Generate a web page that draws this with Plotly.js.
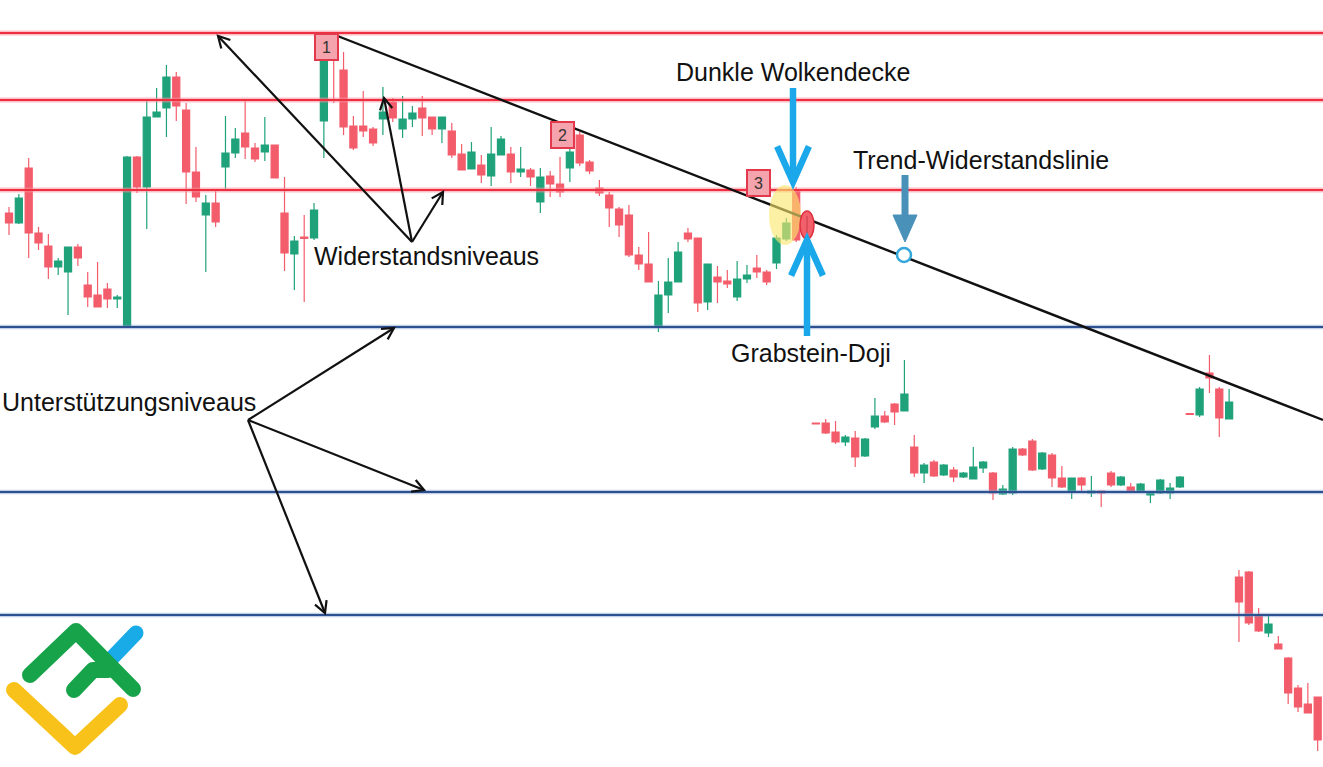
<!DOCTYPE html>
<html>
<head>
<meta charset="utf-8">
<script src="https://cdn.plot.ly/plotly-3.0.1.min.js"></script>
<style>
  html, body { margin: 0; padding: 0; background: #ffffff; }
  #chart { width: 1323px; height: 767px; }
</style>
</head>
<body>
<div id="chart"></div>
<script>
// ---- data (price units, candle index on x) ----
const openP = [554,544,599,534,521,500,495,520,482,472,478,468,440,610,580,650,659,690,657,595,
  552,564,600,614,634,619,615,622,554,513,530,529,646,720,697,641,641,638,648,665,
  638,648,659,650,638,636,613,598,602,591,612,613,595,597,565,591,583,599,632,605,
  579,572,558,552,512,503,440,472,485,534,529,465,490,486,470,488,499,495,504,528,
  577,534,344,344,335,325,329,311,340,351,363,356,320,294,305,292,297,290,288,299,
  294,273,274,318,326,298,312,289,275,289,274,276,294,282,280,275,272,274,274,280,
  353.5,352,394,378,348,190,195,152,134,123,109,79,63,70];
const highP = [560,573,609,540,533,509,520,523,495,505,484,472,611,611,667,679,702,695,664,620,
  572,577,651,639,666,624,650,622,590,531,552,564,720,728,715,651,676,640,680,669,
  671,661,671,650,650,644,623,625,612,640,631,620,620,599,599,596,610,632,635,607,
  587,575,560,562,520,535,486,509,525,539,529,503,501,497,506,502,512,497,532,549,
  580,553,344.3,348,346,332,336,329,369,356,364,407,332,304,307,303,300,295,320,306,
  295,282,320,319,328,315,314,301,289,290,291,276,296,291,284,284,275,288,284,291,
  353.5,380,412,380,378,197,196,159,152,131,110,82,84,70];
const lowP = [532,543,509,517,488,492,452,501,460,460,459,459,440,574,538,650,630,646,563,565,
  495,540,577,609,608,605,606,589,496,477,465,527,609,664,632,617,630,621,632,645,
  629,640,631,632,624,609,597,598,584,581,612,584,590,581,554,570,570,585,601,593,
  571,540,530,510,497,485,435,454,485,525,455,457,464,479,466,484,489,482,498,526,
  525,532,342.5,333,323,321,300,310,338,344,342,356,290,284,290,291,285,289,288,294,
  267,272,272,311,296,297,280,279,268,276,270,260,280,281,274,274,264,273,268,279,
  352.5,350,374,330,348,125,142,135,130,118,63,55,54,16];
const closeP = [544,569,534,524,500,506,520,509,470,460,468,470,610,580,650,655,690,661,595,570,
  564,545,614,628,620,608,622,589,514,526,528.5,557,712,710,640,619,636,624,655,649,
  648,654,649,638,650,612,597,615,592,613,628,595,598,590,590,583,575,615,604,596,
  574,559,542,512,503,485,472,485,515,528,464,503,485,483,488,492,495,485,529,544,
  527,533,343,334,325,330,310,328,351,345,355,373,294,302,291,302,290,294,300,305,
  274,278,318,312,297,314,289,280,289,282,276,274,282,290,275,283,275,287,279,290,
  352.5,378,389,349,365,165,144,136,143,118,74,60,54,27];
const candleIndex = openP.map((_, i) => i);

const resistanceLevels = [734, 667, 577];
const supportLevels = [440, 275, 152];
const trendLine = { x: [33.13, 133.54], y: [732, 347] };

const labelTexts = ["Dunkle Wolkendecke", "Trend-Widerstandslinie", "Widerstandsniveaus",
                    "Grabstein-Doji", "Unterstützungsniveaus"];
const markerNumbers = ["1", "2", "3"];

// ---- helpers (pixel -> paper) ----
const W = 1323, H = 767;
const px = x => x / W;
const py = y => 1 - y / H;

function arrowShapes(x0, y0, x1, y1, color, width, headLen, headAng) {
  const a = Math.atan2(y1 - y0, x1 - x0);
  const w1x = x1 - headLen * Math.cos(a - headAng), w1y = y1 - headLen * Math.sin(a - headAng);
  const w2x = x1 - headLen * Math.cos(a + headAng), w2y = y1 - headLen * Math.sin(a + headAng);
  return [
    { type: 'line', xref: 'paper', yref: 'paper', x0: px(x0), y0: py(y0), x1: px(x1), y1: py(y1),
      line: { color, width } },
    { type: 'path', xref: 'paper', yref: 'paper',
      path: `M ${px(w1x)} ${py(w1y)} L ${px(x1)} ${py(y1)} L ${px(w2x)} ${py(w2y)}`,
      line: { color, width } }
  ];
}

const shapes = [];
// level lines
resistanceLevels.forEach(v => {
  shapes.push({ type: 'line', xref: 'paper', yref: 'y', x0: 0, x1: 1, y0: v, y1: v,
    line: { color: 'rgba(245,140,150,0.55)', width: 5 }, layer: 'above' });
  shapes.push({ type: 'line', xref: 'paper', yref: 'y', x0: 0, x1: 1, y0: v, y1: v,
    line: { color: '#ee2f42', width: 1.8 }, layer: 'above' });
});
supportLevels.forEach(v => {
  shapes.push({ type: 'line', xref: 'paper', yref: 'y', x0: 0, x1: 1, y0: v, y1: v,
    line: { color: 'rgba(120,150,200,0.45)', width: 4.5 }, layer: 'above' });
  shapes.push({ type: 'line', xref: 'paper', yref: 'y', x0: 0, x1: 1, y0: v, y1: v,
    line: { color: '#2d5190', width: 2.2 }, layer: 'above' });
});
// trend line
shapes.push({ type: 'line', xref: 'x', yref: 'y', x0: trendLine.x[0], y0: trendLine.y[0],
  x1: trendLine.x[1], y1: trendLine.y[1], line: { color: '#111111', width: 2.4 }, layer: 'above' });

// yellow highlight and red doji ellipse
shapes.push({ type: 'circle', xref: 'paper', yref: 'paper', x0: px(769), x1: px(801), y0: py(185), y1: py(245),
  fillcolor: 'rgba(250,230,110,0.62)', line: { width: 0 }, layer: 'above' });
shapes.push({ type: 'circle', xref: 'paper', yref: 'paper', x0: px(800), x1: px(814), y0: py(211), y1: py(239),
  fillcolor: '#f2606c', line: { color: '#e0303f', width: 1.5 }, layer: 'above' });
shapes.push({ type: 'line', xref: 'paper', yref: 'paper', x0: px(807), x1: px(807), y0: py(216), y1: py(233),
  line: { color: '#c93a48', width: 1 }, layer: 'above' });

// black arrows (resistance)
const ang = 0.5;
shapes.push(...arrowShapes(412, 242, 218, 36, '#111', 2.2, 13, ang));
shapes.push(...arrowShapes(412, 242, 384, 98, '#111', 2.2, 13, ang));
shapes.push(...arrowShapes(412, 242, 443, 192, '#111', 2.2, 13, ang));
// black arrows (support)
shapes.push(...arrowShapes(248, 420, 394, 328, '#111', 2.2, 13, ang));
shapes.push(...arrowShapes(248, 420, 424, 490, '#111', 2.2, 13, ang));
shapes.push(...arrowShapes(248, 420, 325, 613, '#111', 2.2, 13, ang));
// blue arrows
shapes.push(...arrowShapes(793, 88, 793, 182, '#1aa8ea', 6.5, 39, 0.42));
shapes.push(...arrowShapes(807, 336, 807, 240, '#1aa8ea', 6.5, 39, 0.42));
// trend arrow (filled head)
shapes.push({ type: 'line', xref: 'paper', yref: 'paper', x0: px(905), x1: px(905), y0: py(175), y1: py(218),
  line: { color: '#4a91b9', width: 7 } });
shapes.push({ type: 'path', xref: 'paper', yref: 'paper',
  path: `M ${px(893)} ${py(215)} L ${px(917)} ${py(215)} L ${px(905)} ${py(242)} Z`,
  fillcolor: '#4a91b9', line: { color: '#4a91b9', width: 1 } });
// circle on trend line
shapes.push({ type: 'circle', xref: 'paper', yref: 'paper', x0: px(897), x1: px(911), y0: py(248), y1: py(262),
  fillcolor: '#ffffff', line: { color: '#35a6da', width: 2.5 }, layer: 'above' });

// ---- annotations ----
const font = { family: 'Liberation Sans, Arial, sans-serif', size: 25, color: '#111111' };
const annotations = [
  { text: labelTexts[0], x: px(793), y: py(72) },
  { text: labelTexts[1], x: px(981), y: py(160) },
  { text: labelTexts[2], x: px(426), y: py(256) },
  { text: labelTexts[3], x: px(811), y: py(353) },
  { text: labelTexts[4], x: px(129), y: py(402) }
].map(a => Object.assign({ xref: 'paper', yref: 'paper', showarrow: false, xanchor: 'center',
  yanchor: 'middle', font }, a));

const boxPos = [[326, 47], [562, 135], [758, 183]];
markerNumbers.forEach((t, i) => {
  annotations.push({ text: t, xref: 'paper', yref: 'paper', x: px(boxPos[i][0]), y: py(boxPos[i][1]),
    showarrow: false, xanchor: 'center', yanchor: 'middle',
    font: { family: 'Liberation Sans, Arial, sans-serif', size: 16, color: '#333' },
    bgcolor: '#f5a3ac', bordercolor: '#e23a4c', borderwidth: 2, width: 19, height: 22 });
});

// ---- logo (inline svg) ----
const logoSvg = `<svg xmlns="http://www.w3.org/2000/svg" width="160" height="167" viewBox="0 0 160 167">
<g fill="none" stroke-linecap="round" stroke-linejoin="round">
<path d="M112 58 L136 33" stroke="#19aae8" stroke-width="15"/>
<path d="M14 90 L75 147 L120 105" stroke="#f8c21a" stroke-width="16"/>
<path d="M30 75 L76 31 L133 89" stroke="#16a34a" stroke-width="16"/>
<path d="M74 90 L93 70 L108 70" stroke="#16a34a" stroke-width="16"/>
</g></svg>`;
const images = [{
  source: 'data:image/svg+xml;charset=utf-8,' + encodeURIComponent(logoSvg),
  xref: 'paper', yref: 'paper', x: px(0), y: py(600), sizex: px(160), sizey: 167 / H,
  xanchor: 'left', yanchor: 'top', sizing: 'stretch', layer: 'above'
}];

const trace = {
  type: 'candlestick',
  x: candleIndex, open: openP, high: highP, low: lowP, close: closeP,
  increasing: { line: { color: '#1fa27a', width: 1.2 }, fillcolor: '#1fa27a' },
  decreasing: { line: { color: '#f35d6b', width: 1.2 }, fillcolor: '#f35d6b' },
  whiskerwidth: 0, hoverinfo: 'skip', showlegend: false
};

const layout = {
  width: W, height: H,
  margin: { l: 0, r: 0, t: 0, b: 0 },
  paper_bgcolor: '#ffffff', plot_bgcolor: '#ffffff',
  xaxis: { range: [-0.915, 133.54], visible: false, rangeslider: { visible: false }, fixedrange: true },
  yaxis: { range: [0, 767], visible: false, fixedrange: true },
  boxgap: 0.28, boxgroupgap: 0,
  showlegend: false, hovermode: false,
  shapes, annotations, images
};

Plotly.newPlot('chart', [trace], layout, { displayModeBar: false, staticPlot: true });
</script>
</body>
</html>
